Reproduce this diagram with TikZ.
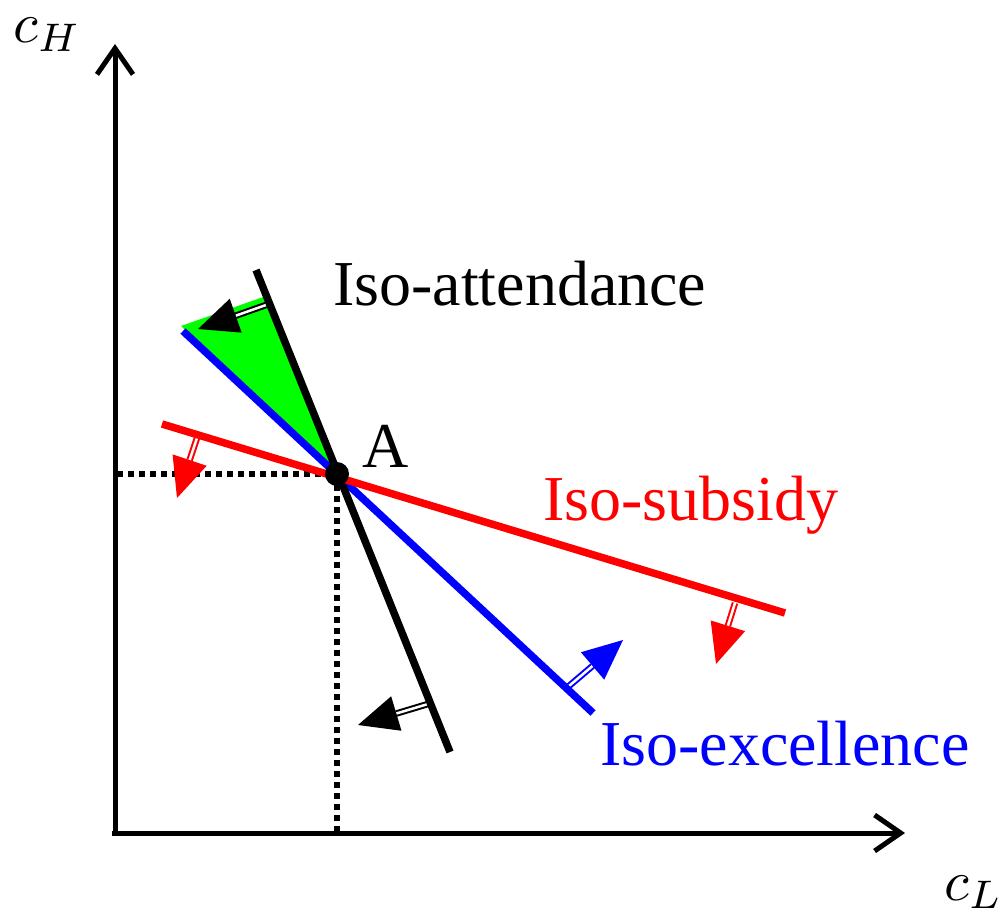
\documentclass[tikz,border=0pt]{standalone}
\usepackage{graphicx}
\usepackage{fontspec}
\setmainfont{Liberation Serif}
\usetikzlibrary{calc,arrows.meta}
\tikzset{
 axis/.style={line width=5pt, -{Straight Barb[length=26pt,width=36pt]}},
 isoline/.style={line width=7.5pt},
 guide/.style={line width=5.5pt, dash pattern=on 5.5pt off 5.5pt},
 lbl/.style={font=\fontsize{64}{64}\selectfont, inner sep=0pt, anchor=base west},
 axlbl/.style={inner sep=0pt, anchor=base west},
}
\newcommand{\dblarrow}[4]{% color, from, tip, name
 \coordinate (#4b) at ($(#3)!40pt!(#2)$);
 \draw[#1, line width=2pt, double=white, double distance=2.5pt] (#2) -- (#4b);
 \fill[#1] (#3) -- ($(#4b)!18pt!90:(#3)$) -- ($(#4b)!18pt!-90:(#3)$) -- cycle;
}
\begin{document}
\begin{tikzpicture}[x=1pt,y=-1pt]
\useasboundingbox (0,0) rectangle (1006,920);
% axes
\coordinate (ytip) at (115,44);
\coordinate (xtip) at (905,833);
\coordinate (Oy) at (115,836);
\coordinate (Ox) at (112,833);
\draw[axis] (Oy) -- (ytip);
\draw[axis] (Ox) -- (xtip);
% point A
\coordinate (A) at (337,474);
\coordinate (Ay) at (117,474);
\coordinate (Ax) at (337,835);
\draw[guide] (Ay) -- (A);
\draw[guide] (A) -- (Ax);
% green region
\coordinate (g1) at (181,326);
\coordinate (g2) at (266,296);
\fill[green] (A) -- (g1) -- (g2) -- cycle;
% arrows
\coordinate (k1s) at (266,305); \coordinate (k1t) at (198,329);
\coordinate (k2s) at (428,704); \coordinate (k2t) at (358,725);
\coordinate (r1s) at (197,438); \coordinate (r1t) at (177,498);
\coordinate (r2s) at (735,603); \coordinate (r2t) at (716,664);
\coordinate (b1s) at (569,686); \coordinate (b1t) at (623,640);
\dblarrow{black}{k1s}{k1t}{k1}
\dblarrow{black}{k2s}{k2t}{k2}
\dblarrow{red}{r1s}{r1t}{r1}
\dblarrow{red}{r2s}{r2t}{r2}
\dblarrow{blue}{b1s}{b1t}{b1}
% lines
\coordinate (bl1) at (183,331); \coordinate (bl2) at (593,713);
\coordinate (kl1) at (256,270); \coordinate (kl2) at (450,752);
\coordinate (rl1) at (162,424); \coordinate (rl2) at (785,613);
\draw[isoline, blue] (bl1) -- (bl2);
\draw[isoline, black] (kl1) -- (kl2);
\draw[isoline, red] (rl1) -- (rl2);
\fill (A) circle (12pt);
% labels
\node[lbl] (tA) at (362,467) {A};
\node[lbl] (tatt) at (333,305) {Iso-attendance};
\node[lbl, text=red] (tsub) at (543,520) {Iso-subsidy};
\node[lbl, text=blue] (texc) at (600,765) {Iso-excellence};
\node[axlbl] (cH) at (13,43) {\scalebox{5.7}{$c_H$}};
\node[axlbl] (cL) at (944,900) {\scalebox{5.7}{$c_L$}};
\end{tikzpicture}
\end{document}
